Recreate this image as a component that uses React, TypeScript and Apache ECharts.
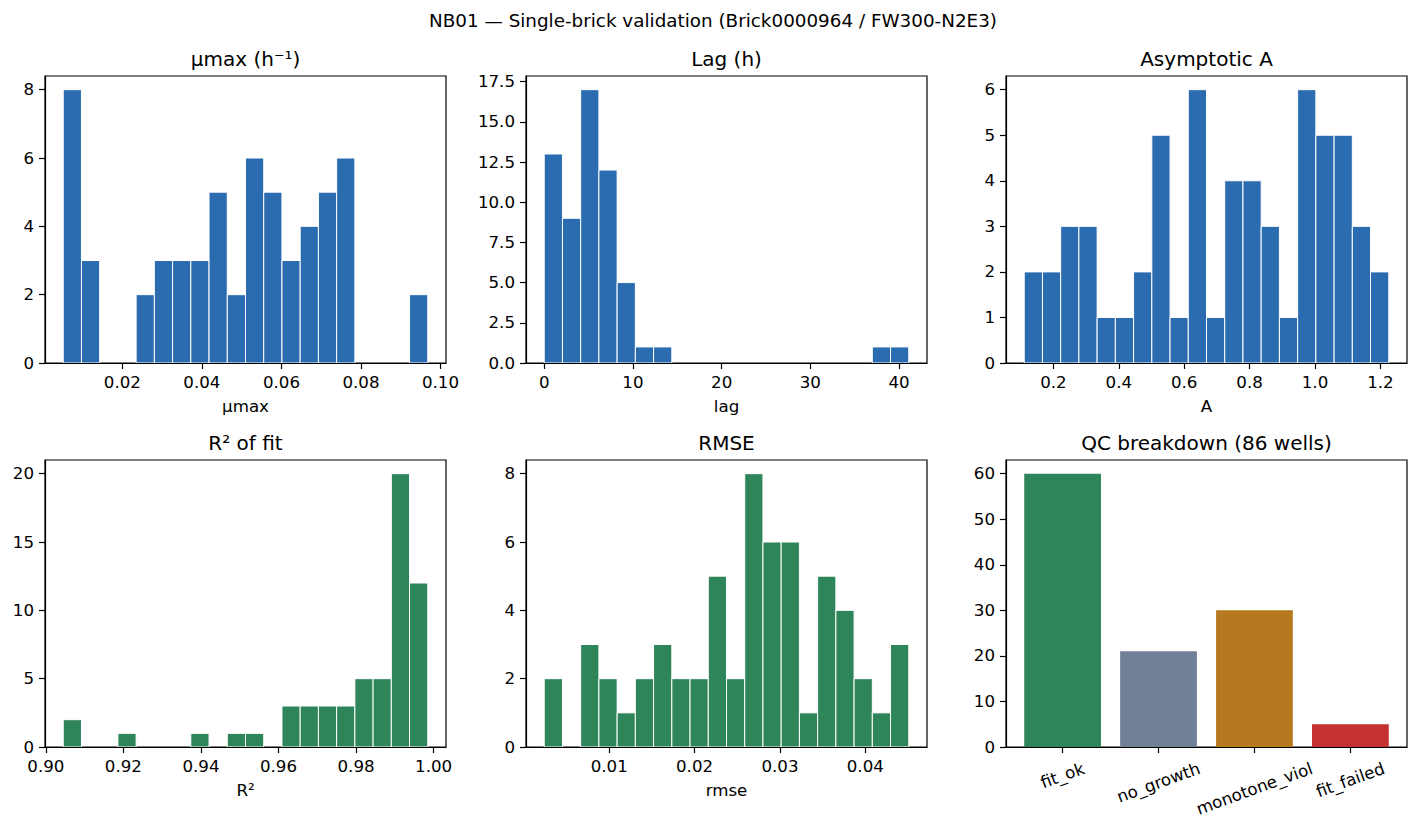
import React, { useEffect, useRef } from 'react';
import * as echarts from 'echarts';

const FONT = '"DejaVu Sans", "Liberation Sans", sans-serif';
const TICK_SIZE = 16.67;
const TITLE_SIZE = 20;
const SUPTITLE_SIZE = 18.33;

const BLUE = '#2b6cb0';
const GREEN = '#2f855a';

const SUPTITLE = 'NB01 — Single-brick validation (Brick0000964 / FW300-N2E3)';

// μmax histogram: 20 equal bins between the data min and max
const muMaxRange = [0.00512, 0.0968];
const muMaxCounts = [8, 3, 0, 0, 2, 3, 3, 3, 5, 2, 6, 5, 3, 4, 5, 6, 0, 0, 0, 2];
const muMaxTicks = [0.02, 0.04, 0.06, 0.08, 0.1];
const muMaxYTicks = [0, 2, 4, 6, 8];

// lag histogram
const lagRange = [0, 41.1];
const lagCounts = [13, 9, 17, 12, 5, 1, 1, 0, 0, 0, 0, 0, 0, 0, 0, 0, 0, 0, 1, 1];
const lagTicks = [0, 10, 20, 30, 40];
const lagYTicks = [0, 2.5, 5, 7.5, 10, 12.5, 15, 17.5];

// asymptote A histogram
const aRange = [0.1108, 1.2256];
const aCounts = [2, 2, 3, 3, 1, 1, 2, 5, 1, 6, 1, 4, 4, 3, 1, 6, 5, 5, 3, 2];
const aTicks = [0.2, 0.4, 0.6, 0.8, 1.0, 1.2];
const aYTicks = [0, 1, 2, 3, 4, 5, 6];

// R² histogram
const r2Range = [0.90448, 0.9985];
const r2Counts = [2, 0, 0, 1, 0, 0, 0, 1, 0, 1, 1, 0, 3, 3, 3, 3, 5, 5, 20, 12];
const r2Ticks = [0.9, 0.92, 0.94, 0.96, 0.98, 1.0];
const r2YTicks = [0, 5, 10, 15, 20];

// RMSE histogram
const rmseRange = [0.00239, 0.04509];
const rmseCounts = [2, 0, 3, 2, 1, 2, 3, 2, 2, 5, 2, 8, 6, 6, 1, 5, 4, 2, 1, 3];
const rmseTicks = [0.01, 0.02, 0.03, 0.04];
const rmseYTicks = [0, 2, 4, 6, 8];

// QC flag counts
const qcCategories = ['fit_ok', 'no_growth', 'monotone_viol', 'fit_failed'];
const qcCounts = [60, 21, 30, 5];
const qcColors = ['#2f855a', '#718096', '#b7791f', '#c53030'];
const qcYTicks = [0, 10, 20, 30, 40, 50, 60];

const HISTS = [
  { title: 'μmax (h⁻¹)', xName: 'μmax', range: muMaxRange, counts: muMaxCounts, xTicks: muMaxTicks, yTicks: muMaxYTicks, xDec: 2, yDec: 0, color: BLUE },
  { title: 'Lag (h)', xName: 'lag', range: lagRange, counts: lagCounts, xTicks: lagTicks, yTicks: lagYTicks, xDec: 0, yDec: 1, color: BLUE },
  { title: 'Asymptotic A', xName: 'A', range: aRange, counts: aCounts, xTicks: aTicks, yTicks: aYTicks, xDec: 1, yDec: 0, color: BLUE },
  { title: 'R² of fit', xName: 'R²', range: r2Range, counts: r2Counts, xTicks: r2Ticks, yTicks: r2YTicks, xDec: 2, yDec: 0, color: GREEN },
  { title: 'RMSE', xName: 'rmse', range: rmseRange, counts: rmseCounts, xTicks: rmseTicks, yTicks: rmseYTicks, xDec: 2, yDec: 0, color: GREEN },
];
const QC_TITLE = 'QC breakdown (86 wells)';

// page and panel layout (px)
const W = 1418;
const H = 830;
const FRAMES = [
  [45, 76], [526, 76], [1006, 76],
  [45, 460], [526, 460], [1006, 460],
];
const FRAME_W = 401;
const FRAME_H = 287;
const TITLE_GAP = 17;
const TICK_LEN = 6;
const LABEL_ROT = 20;
const SPINE_W = 1.2;

const textStyle = { color: '#000', fontFamily: FONT, fontSize: TICK_SIZE };

function axisCommon(gi: number) {
  return {
    gridIndex: gi,
    z: 5,
    axisLine: { show: true, onZero: false, lineStyle: { color: '#000', width: SPINE_W } },
    splitLine: { show: false },
  };
}

function xAxisFor(gi: number, min: number, max: number, ticks: number[], dec: number, name: string, showLabels = true) {
  return {
    ...axisCommon(gi),
    type: 'value',
    min,
    max,
    axisTick: { show: true, inside: false, length: TICK_LEN, customValues: ticks, lineStyle: { color: '#000', width: SPINE_W } },
    axisLabel: {
      show: showLabels,
      customValues: ticks,
      margin: 11,
      ...textStyle,
      formatter: (v: number) => v.toFixed(dec),
    },
    name,
    nameLocation: 'middle',
    nameGap: 35,
    nameTextStyle: { ...textStyle },
  };
}

function yAxisFor(gi: number, max: number, ticks: number[], dec: number) {
  return {
    ...axisCommon(gi),
    type: 'value',
    min: 0,
    max,
    axisTick: { show: true, inside: false, length: TICK_LEN, customValues: ticks, lineStyle: { color: '#000', width: SPINE_W } },
    axisLabel: {
      customValues: ticks,
      margin: 11,
      ...textStyle,
      formatter: (v: number) => v.toFixed(dec),
    },
  };
}

function histSeries(gi: number, range: number[], counts: number[], color: string) {
  const bw = (range[1] - range[0]) / counts.length;
  const data = counts.map((c, i) => [range[0] + i * bw, range[0] + (i + 1) * bw, c]);
  return {
    type: 'custom',
    xAxisIndex: gi,
    yAxisIndex: gi,
    data,
    encode: { x: [0, 1], y: 2 },
    renderItem: (_p: any, api: any) => {
      const c = api.value(2);
      if (!c) return null;
      const a = api.coord([api.value(0), c]);
      const b = api.coord([api.value(1), 0]);
      return {
        type: 'rect',
        shape: { x: a[0], y: a[1], width: b[0] - a[0], height: b[1] - a[1] },
        style: { fill: color, stroke: '#ffffff', lineWidth: 1 },
      };
    },
  };
}

function buildOption() {
  const grid = FRAMES.map(([l, t]) => ({
    left: l, top: t, width: FRAME_W, height: FRAME_H,
    show: true, borderColor: '#000', borderWidth: SPINE_W, backgroundColor: 'transparent',
  }));
  const xAxis: any[] = [];
  const yAxis: any[] = [];
  const series: any[] = [];

  HISTS.forEach((h, i) => {
    const span = h.range[1] - h.range[0];
    xAxis.push(xAxisFor(i, h.range[0] - 0.05 * span, h.range[1] + 0.05 * span, h.xTicks, h.xDec, h.xName));
    yAxis.push(yAxisFor(i, Math.max(...h.counts) * 1.05, h.yTicks, h.yDec));
    series.push(histSeries(i, h.range, h.counts, h.color));
  });

  // QC bar panel: categories sit at 0..n-1, bars 0.8 wide
  const qi = 5;
  const n = qcCategories.length;
  const qcIdx = qcCategories.map((_, i) => i);
  xAxis.push(xAxisFor(qi, -0.4 - 0.05 * (n - 0.2), n - 1 + 0.4 + 0.05 * (n - 0.2), qcIdx, 0, '', false));
  yAxis.push(yAxisFor(qi, Math.max(...qcCounts) * 1.05, qcYTicks, 0));
  series.push({
    type: 'custom',
    xAxisIndex: qi,
    yAxisIndex: qi,
    data: qcCounts.map((c, i) => [i, c]),
    encode: { x: 0, y: 1 },
    renderItem: (p: any, api: any) => {
      const x = api.value(0);
      const a = api.coord([x - 0.4, api.value(1)]);
      const b = api.coord([x + 0.4, 0]);
      return {
        type: 'rect',
        shape: { x: a[0], y: a[1], width: b[0] - a[0], height: b[1] - a[1] },
        style: { fill: qcColors[p.dataIndex] },
      };
    },
  });

  return {
    animation: false,
    backgroundColor: '#ffffff',
    textStyle: { fontFamily: FONT },
    grid,
    xAxis,
    yAxis,
    series,
  };
}

function buildGraphic(chart: any) {
  const els: any[] = [];
  els.push({
    type: 'text', x: 713, y: 20,
    style: { text: SUPTITLE, fill: '#000', fontFamily: FONT, fontSize: SUPTITLE_SIZE, align: 'center', verticalAlign: 'middle' },
  });
  const titles = [...HISTS.map((h) => h.title), QC_TITLE];
  FRAMES.forEach(([l, t], i) => {
    els.push({
      type: 'text', x: l + FRAME_W / 2, y: t - TITLE_GAP,
      style: { text: titles[i], fill: '#000', fontFamily: FONT, fontSize: TITLE_SIZE, align: 'center', verticalAlign: 'middle' },
    });
  });

  // rotated category labels, centred under their ticks
  const ctx = document.createElement('canvas').getContext('2d')!;
  ctx.font = `${TICK_SIZE}px "DejaVu Sans"`;
  const th = (LABEL_ROT * Math.PI) / 180;
  const lh = 1.164 * TICK_SIZE;
  qcCategories.forEach((name, i) => {
    const p = chart.convertToPixel({ xAxisIndex: 5, yAxisIndex: 5 }, [i, 0]);
    const w = ctx.measureText(name).width;
    const cy = p[1] + TICK_LEN + 5.8 + (w * Math.sin(th) + lh * Math.cos(th)) / 2;
    els.push({
      type: 'text', x: p[0], y: cy, rotation: th,
      style: { text: name, fill: '#000', fontFamily: FONT, fontSize: TICK_SIZE, align: 'center', verticalAlign: 'middle' },
    });
  });
  return els;
}

export default function App() {
  const ref = useRef<HTMLDivElement>(null);
  useEffect(() => {
    const chart = echarts.init(ref.current!, null, { renderer: 'svg' });
    chart.setOption(buildOption());
    chart.setOption({ graphic: buildGraphic(chart) });
    return () => chart.dispose();
  }, []);
  return (
    <div
      ref={ref}
      style={{ position: 'absolute', left: 0, top: 0, width: W, height: H, background: '#fff' }}
    />
  );
}
